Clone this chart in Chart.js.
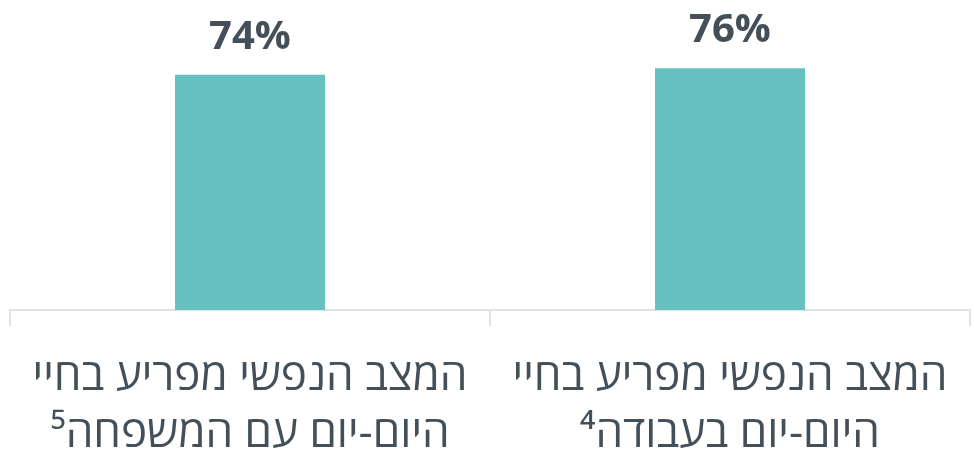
<!DOCTYPE html>
<html lang="he">
<head>
<meta charset="utf-8">
<script src="https://cdn.jsdelivr.net/npm/chart.js@4"></script>
<style>
  html, body { margin: 0; padding: 0; background: #fff; }
  #wrap { width: 974px; height: 453px; }
</style>
</head>
<body>
<div id="wrap"><canvas id="barChart" dir="rtl"></canvas></div>
<script>
// נתונים
const categories = [
  ['המצב הנפשי מפריע בחיי', 'היום-יום עם המשפחה⁵'],
  ['המצב הנפשי מפריע בחיי', 'היום-יום בעבודה⁴']
];
const values = [74, 76];
const valueLabels = ['74%', '76%'];

const textColor = '#434f59';

// תוויות אחוזים מעל העמודות
const valueLabelPlugin = {
  id: 'valueLabels',
  afterDatasetsDraw(chart) {
    const ctx = chart.ctx;
    const meta = chart.getDatasetMeta(0);
    ctx.save();
    ctx.font = 'bold 40px "Open Sans"';
    ctx.fillStyle = textColor;
    ctx.textAlign = 'center';
    ctx.textBaseline = 'alphabetic';
    meta.data.forEach((bar, i) => {
      ctx.fillText(valueLabels[i], bar.x, bar.y - 26);
    });
    ctx.restore();
  }
};

const ctx = document.getElementById('barChart').getContext('2d');
new Chart(ctx, {
  type: 'bar',
  data: {
    labels: categories,
    datasets: [{
      data: values,
      backgroundColor: '#67c1c0',
      barPercentage: 0.3125,
      categoryPercentage: 1
    }]
  },
  options: {
    responsive: true,
    maintainAspectRatio: false,
    animation: false,
    layout: { padding: { left: 10, right: 4, top: 0, bottom: 0 } },
    plugins: { legend: { display: false }, tooltip: { enabled: false } },
    scales: {
      y: { display: false, min: 0, max: 97.5 },
      x: {
        afterFit(scale) { scale.height = 143; },
        border: { display: true, color: '#dfe3e6', width: 2 },
        grid: { display: true, drawOnChartArea: false, drawTicks: true, tickLength: 16, color: '#dfe3e6', lineWidth: 2 },
        ticks: {
          color: textColor,
          padding: 23,
          maxRotation: 0,
          autoSkip: false,
          font: { family: '"Open Sans"', size: 44, lineHeight: 1.3 }
        }
      }
    }
  },
  plugins: [valueLabelPlugin]
});
</script>
</body>
</html>
